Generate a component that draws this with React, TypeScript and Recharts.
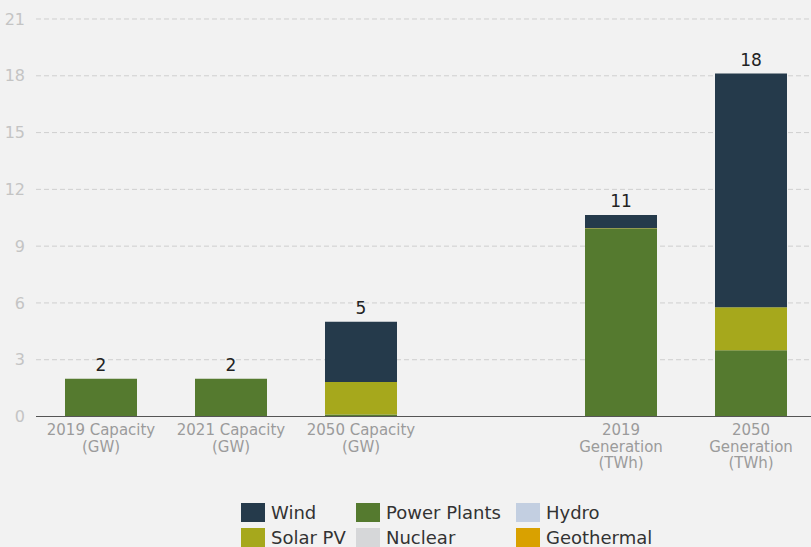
import React from "react";
import { BarChart, Bar, XAxis, YAxis, CartesianGrid, LabelList } from "recharts";

const categories = [
  "2019 Capacity (GW)",
  "2021 Capacity (GW)",
  "2050 Capacity (GW)",
  "",
  "2019 Generation (TWh)",
  "2050 Generation (TWh)",
];
const categoryLines = [
  ["2019 Capacity", "(GW)"],
  ["2021 Capacity", "(GW)"],
  ["2050 Capacity", "(GW)"],
  [],
  ["2019", "Generation", "(TWh)"],
  ["2050", "Generation", "(TWh)"],
];
const powerPlants = [2.0, 2.0, 0.1, null, 9.9, 3.5];
const nuclear = [0, 0, 0, null, 0, 0];
const hydro = [0, 0, 0, null, 0, 0];
const geothermal = [0, 0, 0, null, 0, 0];
const solarPV = [0, 0, 1.72, null, 0.05, 2.27];
const wind = [0, 0, 3.18, null, 0.7, 12.35];
const totalLabels = [2, 2, 5, null, 11, 18];
const yTicks = [0, 3, 6, 9, 12, 15, 18, 21];

const series = [
  { key: "powerPlants", name: "Power Plants", color: "#557a2f", values: powerPlants },
  { key: "nuclear", name: "Nuclear", color: "#d6d7d9", values: nuclear },
  { key: "hydro", name: "Hydro", color: "#c3cfe1", values: hydro },
  { key: "geothermal", name: "Geothermal", color: "#d9a100", values: geothermal },
  { key: "solarPV", name: "Solar PV", color: "#a6a81c", values: solarPV },
  { key: "wind", name: "Wind", color: "#253a4b", values: wind },
];
const legendOrder = ["Wind", "Power Plants", "Hydro", "Solar PV", "Nuclear", "Geothermal"];

const data = categories.map((c, i) => {
  const row: any = { name: c, idx: i, total: totalLabels[i] };
  series.forEach((s) => {
    row[s.key] = s.values[i];
  });
  return row;
});

// index of topmost non-zero series per category
const topSeries = categories.map((_, i) => {
  let top = -1;
  series.forEach((s, si) => {
    const v = s.values[i];
    if (v !== null && v !== undefined && v > 0) top = si;
  });
  return top;
});

const FONT = "'DejaVu Sans', sans-serif";

const XTick = (props: any) => {
  const { x, y, payload } = props;
  const lines = categoryLines[payload.index] || [];
  return (
    <text x={x} y={y} textAnchor="middle" fill="#9b9b9b" fontSize={15} fontFamily={FONT}>
      {lines.map((l, i) => (
        <tspan key={i} x={x} dy={i === 0 ? "0.71em" : 16.5}>
          {l}
        </tspan>
      ))}
    </text>
  );
};

const TotalLabel = (props: any) => {
  const { x, y, width, value } = props;
  if (value === null || value === undefined || value === "") return null;
  return (
    <text
      x={Number(x) + Number(width) / 2}
      y={Number(y) - 8}
      textAnchor="middle"
      fill="#222222"
      fontSize={17}
      fontFamily={FONT}
    >
      {value}
    </text>
  );
};

export default function App() {
  return (
    <div
      style={{
        position: "fixed",
        left: 0,
        top: 0,
        width: 811,
        height: 547,
        overflow: "hidden",
        background: "#f2f2f2",
        fontFamily: FONT,
      }}
    >
      <BarChart
        width={816}
        height={547}
        data={data}
        margin={{ top: 19, right: 0, bottom: 70.5, left: 0 }}
        barSize={72}
      >
        <CartesianGrid vertical={false} stroke="#cfcfcf" strokeDasharray="5 3" />
        <XAxis
          dataKey="name"
          height={60}
          tick={<XTick />}
          tickLine={false}
          axisLine={{ stroke: "#555555", strokeWidth: 1.2 }}
          interval={0}
        />
        <YAxis
          width={36}
          domain={[0, 21]}
          ticks={yTicks}
          tickLine={false}
          axisLine={false}
          tickMargin={5}
          tick={{ fill: "#c4c4c4", fontSize: 16, fontFamily: FONT }}
        />
        {series.map((s, si) => (
          <Bar
            key={s.key}
            dataKey={s.key}
            name={s.name}
            stackId="a"
            fill={s.color}
            isAnimationActive={false}
          >
            <LabelList
              dataKey={(row: any) => (row && topSeries[row.idx] === si ? row.total : null)}
              content={<TotalLabel />}
            />
          </Bar>
        ))}
      </BarChart>
      <div
        style={{
          position: "absolute",
          left: 241,
          top: 503,
          display: "grid",
          gridTemplateColumns: "115px 160px auto",
          gridAutoRows: "25px",
        }}
      >
        {legendOrder.map((n) => {
          const s = series.find((q) => q.name === n)!;
          return (
            <div key={n} style={{ display: "flex", alignItems: "flex-start", height: 25 }}>
              <div style={{ width: 24, height: 19, background: s.color, marginRight: 6, flexShrink: 0 }} />
              <span style={{ fontSize: 18, lineHeight: "19px", color: "#333333", whiteSpace: "nowrap" }}>{n}</span>
            </div>
          );
        })}
      </div>
    </div>
  );
}
